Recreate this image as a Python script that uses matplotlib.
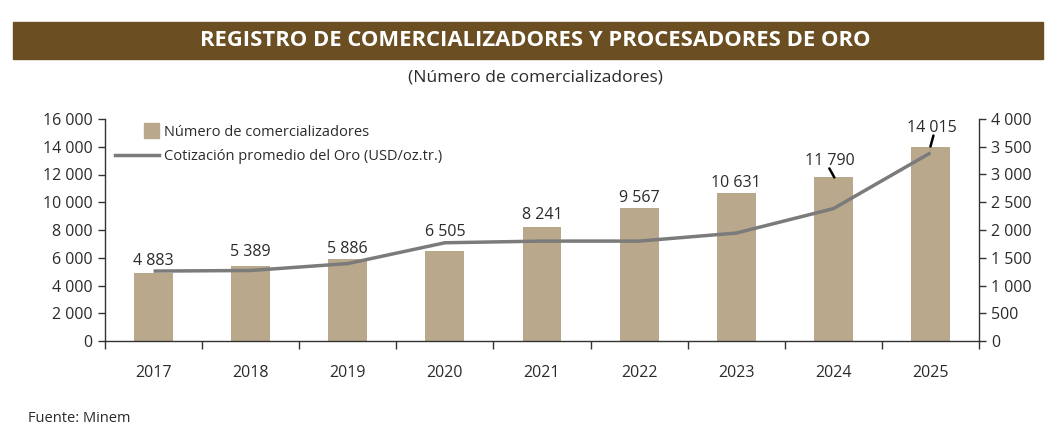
import matplotlib.pyplot as plt
from matplotlib.patches import Rectangle, Patch
from matplotlib.lines import Line2D
from matplotlib.legend_handler import HandlerPatch
from matplotlib.ticker import FuncFormatter, FixedLocator

plt.rcParams['font.family'] = ['Open Sans', 'DejaVu Sans']

# data
years = ["2017", "2018", "2019", "2020", "2021", "2022", "2023", "2024", "2025"]
comercializadores = [4883, 5389, 5886, 6505, 8241, 9567, 10631, 11790, 14015]
cotizacion_oro = [1260, 1270, 1395, 1770, 1800, 1800, 1945, 2385, 3390]

# label offsets in pixels (dx, dy) above bar top
label_off = [(0, 12), (0, 14), (0, 10), (0, 19), (0, 12), (0, 10), (0, 10.5), (-3, 16), (1, 19)]
# leader lines: (start dx, start dy, end dx) in pixels, None = no leader
leaders = [None] * 7 + [(-5, 9, 1), (3, 11, 0)]

bar_color = "#baa88c"
line_color = "#7b7b7b"
text_color = "#2b2b2b"

def fmt(v, pos=None):
    return f"{int(v):,}".replace(",", " ")

fig = plt.figure(figsize=(10.56, 4.42), dpi=100)
W, H = 1056, 442
ax = fig.add_axes([105 / W, 1 - 341 / H, (979 - 105) / W, (341 - 119) / H])
ax2 = ax.twinx()

x = list(range(len(years)))
ax.bar(x, comercializadores, width=0.4, color=bar_color, zorder=2)
ax2.plot(x, cotizacion_oro, color=line_color, lw=2.5, zorder=3, solid_capstyle='butt')

ax.set_zorder(ax2.get_zorder() - 1)
ax.patch.set_visible(False)

ax.set_xlim(-0.5, len(years) - 0.5)
ax.set_ylim(0, 16000)
ax2.set_ylim(0, 4000)
ax.set_yticks(range(0, 16001, 2000))
ax2.set_yticks(range(0, 4001, 500))
ax.yaxis.set_major_formatter(FuncFormatter(fmt))
ax2.yaxis.set_major_formatter(FuncFormatter(fmt))

# x ticks at category boundaries, labels at centers
ax.xaxis.set_major_locator(FixedLocator([i - 0.5 for i in range(len(years) + 1)]))
ax.xaxis.set_minor_locator(FixedLocator(x))
ax.set_xticklabels([])
ax.set_xticklabels(years, minor=True)
ax.tick_params(axis='x', which='major', length=6, width=1, color='#333333', direction='out')
ax.tick_params(axis='x', which='minor', length=0, pad=17, labelsize=11.5, labelcolor=text_color)
ax.tick_params(axis='y', length=5, width=1, color='#333333', labelsize=11.5, labelcolor=text_color, pad=4)
ax2.tick_params(axis='y', length=5, width=1, color='#333333', labelsize=11.5, labelcolor=text_color, pad=4)

for a in (ax, ax2):
    a.spines['top'].set_visible(False)
    for s in ('left', 'right', 'bottom'):
        a.spines[s].set_color('#333333')
        a.spines[s].set_linewidth(1)
ax.spines['right'].set_visible(False)
ax2.spines['left'].set_visible(False)
ax2.spines['bottom'].set_visible(False)

# data labels
for i, v in enumerate(comercializadores):
    dx, dy = label_off[i]
    ax.annotate(fmt(v), xy=(x[i], v), xytext=(dx, dy), textcoords='offset pixels',
                ha='center', va='center', fontsize=11.5, color=text_color, zorder=5)
    if leaders[i] is not None:
        sx, sy, ex = leaders[i]
        ax.annotate('', xy=(x[i] + ex / 97.0, v), xytext=(sx, sy), textcoords='offset pixels',
                    arrowprops=dict(arrowstyle='-', color='black', lw=1.8,
                                    shrinkA=0, shrinkB=0), zorder=5)

# legend
def square_patch(legend, orig_handle, xdescent, ydescent, width, height, fontsize):
    s = height * 1.45
    return Rectangle((-xdescent + width - s, -ydescent + (height - s) / 2), s, s)

handles = [Patch(color=bar_color, label="Número de comercializadores"),
           Line2D([], [], color=line_color, lw=2.5, label="Cotización promedio del Oro (USD/oz.tr.)")]
leg = fig.legend(handles=handles, loc='upper left', bbox_to_anchor=(115 / W, 1 - 125 / H),
                 frameon=False, fontsize=10.5, handlelength=3.0, handletextpad=0.35,
                 labelspacing=0.6, borderpad=0, borderaxespad=0,
                 handler_map={Patch: HandlerPatch(patch_func=square_patch)})
for t in leg.get_texts():
    t.set_color(text_color)

# banner title
fig.patches.append(Rectangle((13 / W, 1 - 59 / H), (1043 - 13) / W, 37 / H,
                             transform=fig.transFigure, color="#6b4f22", zorder=0))
fig.text(535 / W, 1 - 41 / H, "REGISTRO DE COMERCIALIZADORES Y PROCESADORES DE ORO",
         ha='center', va='center', color='white', fontsize=15.8, fontweight='bold')
fig.text(535 / W, 1 - 77 / H, "(Número de comercializadores)", ha='center', va='center',
         color=text_color, fontsize=12.5)
fig.text(28 / W, 1 - 419 / H, "Fuente: Minem", ha='left', va='center', color=text_color,
         fontsize=10.5)

fig.savefig("out.png", dpi=100)
